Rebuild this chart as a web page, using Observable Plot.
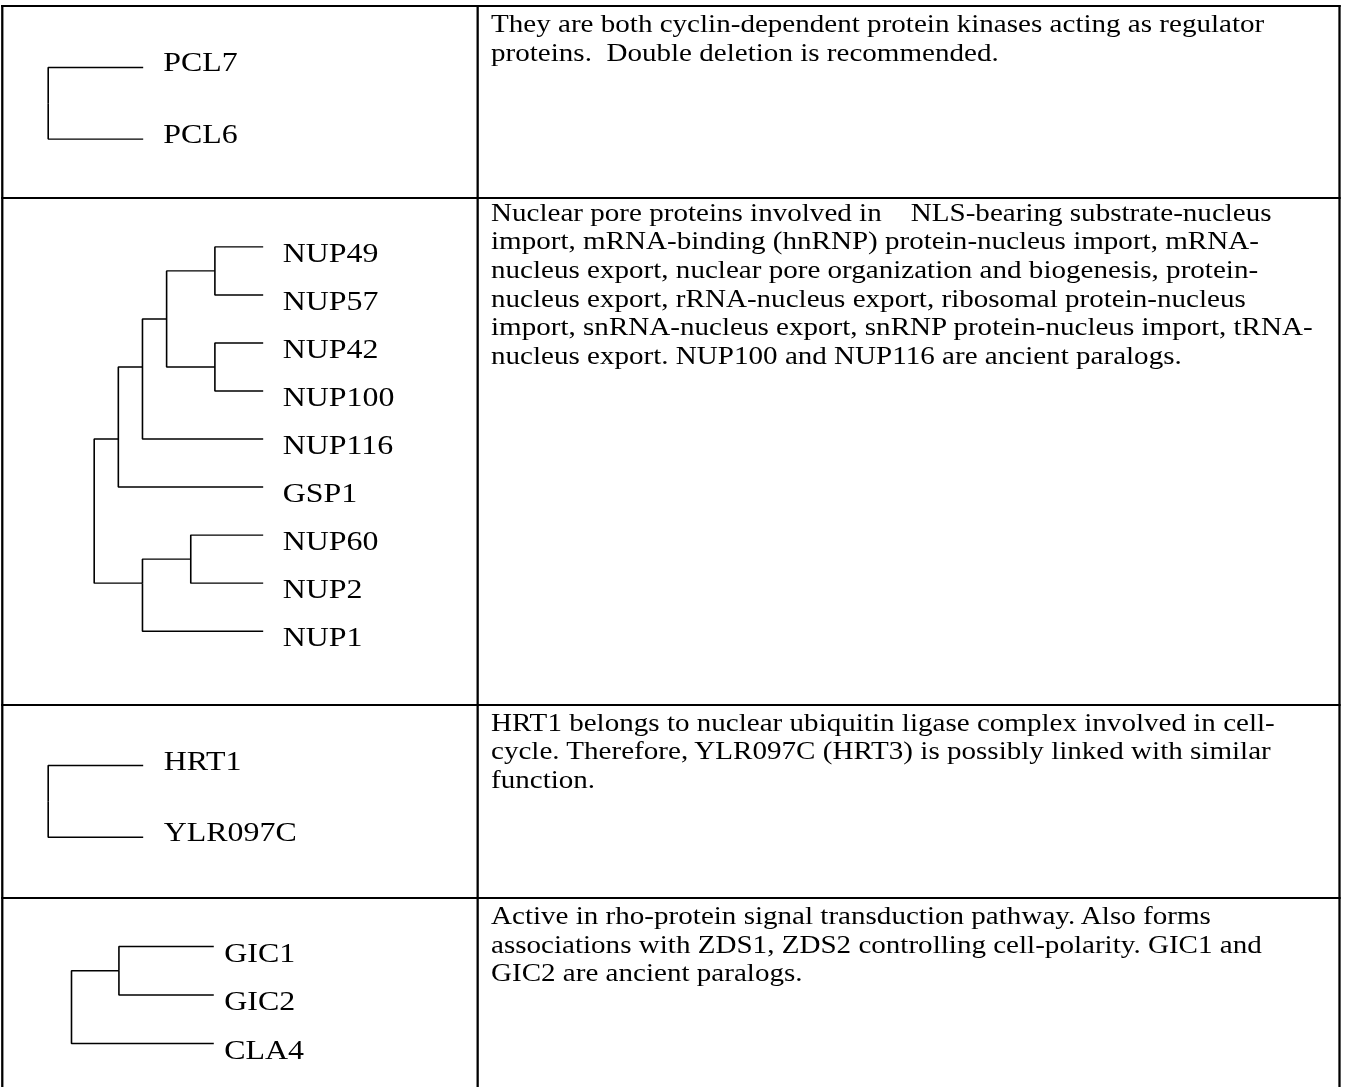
<!DOCTYPE html>
<html>
<head>
<meta charset="utf-8">
<script src="https://cdn.jsdelivr.net/npm/d3@7"></script>
<script src="https://cdn.jsdelivr.net/npm/@observablehq/plot@0.6"></script>
<style>
  html, body { margin: 0; padding: 0; background: #fff; width: 1347px; height: 1087px; overflow: hidden; }
  #page { position: absolute; left: 0; top: 0; height: 1087px; transform-origin: 0 0;
          font-family: "Liberation Serif", "Times New Roman", serif; color: #000; }
  .rule { position: absolute; background: #000; }
  .note { position: absolute; font-size: 25.5px; line-height: 28.6px; white-space: pre; }
  .tree { position: absolute; }
</style>
</head>
<body>
<div id="page"></div>
<script>
// ---------------- data ----------------
// Row 1 : PCL7 / PCL6
const pclNames   = ["PCL7", "PCL6", "root"];
const pclParents = ["root", "root", null];
const pclDepth   = [4, 4, 0];
const pclRank    = [0, 1, 0.5];
const pclNote = [
  "They are both cyclin-dependent protein kinases acting as regulator",
  "proteins.  Double deletion is recommended."
];

// Row 2 : nuclear pore proteins
const nupNames   = ["NUP49", "NUP57", "NUP42", "NUP100", "NUP116", "GSP1", "NUP60", "NUP2", "NUP1",
                    "A", "B", "C", "D", "E", "F", "G", "root"];
const nupParents = ["A", "A", "B", "B", "D", "E", "F", "F", "G",
                    "C", "C", "D", "E", "root", "G", "root", null];
const nupDepth   = [7, 7, 7, 7, 7, 7, 7, 7, 7,
                    5, 5, 3, 2, 1, 4, 2, 0];
const nupRank    = [0, 1, 2, 3, 4, 5, 6, 7, 8,
                    0.5, 2.5, 1.5, 2.5, 4, 6.5, 7, 5.5];
const nupNote = [
  "Nuclear pore proteins involved in    NLS-bearing substrate-nucleus",
  "import, mRNA-binding (hnRNP) protein-nucleus import, mRNA-",
  "nucleus export, nuclear pore organization and biogenesis, protein-",
  "nucleus export, rRNA-nucleus export, ribosomal protein-nucleus",
  "import, snRNA-nucleus export, snRNP protein-nucleus import, tRNA-",
  "nucleus export. NUP100 and NUP116 are ancient paralogs."
];

// Row 3 : HRT1 / YLR097C
const hrtNames   = ["HRT1", "YLR097C", "root"];
const hrtParents = ["root", "root", null];
const hrtDepth   = [4, 4, 0];
const hrtRank    = [0, 1, 0.5];
const hrtNote = [
  "HRT1 belongs to nuclear ubiquitin ligase complex involved in cell-",
  "cycle. Therefore, YLR097C (HRT3) is possibly linked with similar",
  "function."
];

// Row 4 : GIC1 / GIC2 / CLA4
const gicNames   = ["GIC1", "GIC2", "CLA4", "A", "root"];
const gicParents = ["A", "A", "root", "root", null];
const gicDepth   = [6, 6, 6, 2, 0];
const gicRank    = [0, 1, 2, 0.5, 1.25];
const gicNote = [
  "Active in rho-protein signal transduction pathway. Also forms",
  "associations with ZDS1, ZDS2 controlling cell-polarity. GIC1 and",
  "GIC2 are ancient paralogs."
];

// ---------------- layout (picture pixels) ----------------
const S = 1.14;                     // the original picture is stretched horizontally
const X = v => v / S;
const rowLines = [5.7, 198.3, 705, 897.7, 1100];
const colLines = [2.5, 477.7, 1339.5];
const noteX = 491;
const noteBaseline = [33.3, 221.7, 731.7, 925];
const treeGeom = [
  {x0: 46.7, x1: 141.7, y0: 66.7,  y1: 138.3, gap: 20,   dy: 3.5},
  {x0: 92.7, x1: 261.7, y0: 246.7, y1: 631,   gap: 19.5, dy: 14.8},
  {x0: 46.7, x1: 141.7, y0: 765,   y1: 836.7, gap: 20.5, dy: 4.3},
  {x0: 70,   x1: 212.3, y0: 945.7, y1: 1042.7, gap: 10.5, dy: 15.5}
];

const page = document.getElementById("page");
page.style.width = X(1347) + "px";
page.style.transform = `scaleX(${S})`;

// table rules
function rule(left, top, w, h) {
  const d = document.createElement("div");
  d.className = "rule";
  d.style.left = left + "px"; d.style.top = top + "px";
  d.style.width = w + "px"; d.style.height = h + "px";
  page.appendChild(d);
}
rowLines.forEach(y => rule(X(colLines[0] - 1), y - 1, X(colLines[2] - colLines[0] + 2), 2));
colLines.forEach(x => rule(X(x - 1), rowLines[0] - 1, X(2), rowLines[4] - rowLines[0] + 2));

// dendrograms
const trees = [
  {names: pclNames, parents: pclParents, depth: pclDepth, rank: pclRank},
  {names: nupNames, parents: nupParents, depth: nupDepth, rank: nupRank},
  {names: hrtNames, parents: hrtParents, depth: hrtDepth, rank: hrtRank},
  {names: gicNames, parents: gicParents, depth: gicDepth, rank: gicRank}
];
const notes = [pclNote, nupNote, hrtNote, gicNote];

trees.forEach((t, row) => {
  const g = treeGeom[row];
  const top = rowLines[row], left = colLines[0];
  const w = X(colLines[1] - left), h = rowLines[row + 1] - top;
  const nodes = t.names.map((name, i) => ({name, parent: t.parents[i], depth: t.depth[i], rank: t.rank[i]}));
  const byName = new Map(nodes.map(d => [d.name, d]));
  const links = nodes.filter(d => d.parent).map(d => {
    const p = byName.get(d.parent);
    return {x1: p.depth, y1: p.rank, x2: d.depth, y2: d.rank};
  });
  const leaves = nodes.filter(d => !nodes.some(c => c.parent === d.name));
  const maxDepth = d3.max(nodes, d => d.depth);
  const svg = Plot.plot({
    width: w, height: h, margin: 0,
    style: {background: "transparent", overflow: "visible", maxWidth: "none"},
    x: {type: "linear", domain: [0, maxDepth], range: [X(g.x0 - left), X(g.x1 - left)], axis: null},
    y: {type: "linear", domain: [0, leaves.length - 1], range: [g.y0 - top, g.y1 - top], axis: null},
    marks: [
      Plot.link(links, {x1: "x1", y1: "y1", x2: "x2", y2: "y2", curve: "step-before",
                        stroke: "#000", strokeWidth: 1.4}),
      Plot.text(leaves, {x: "depth", y: "rank", text: "name", textAnchor: "start", lineAnchor: "bottom",
                         dx: X(g.gap), dy: g.dy, fontSize: 28,
                         fontFamily: "Liberation Serif, Times New Roman, serif", fill: "#000"})
    ]
  });
  const holder = document.createElement("div");
  holder.className = "tree";
  holder.style.left = left + "px";
  holder.style.top = top + "px";
  holder.appendChild(svg);
  page.appendChild(holder);

  // description text
  const note = document.createElement("div");
  note.className = "note";
  note.style.left = X(noteX) + "px";
  note.style.top = (noteBaseline[row] - 22.9) + "px";
  note.textContent = notes[row].join("\n");
  page.appendChild(note);
});
</script>
</body>
</html>
